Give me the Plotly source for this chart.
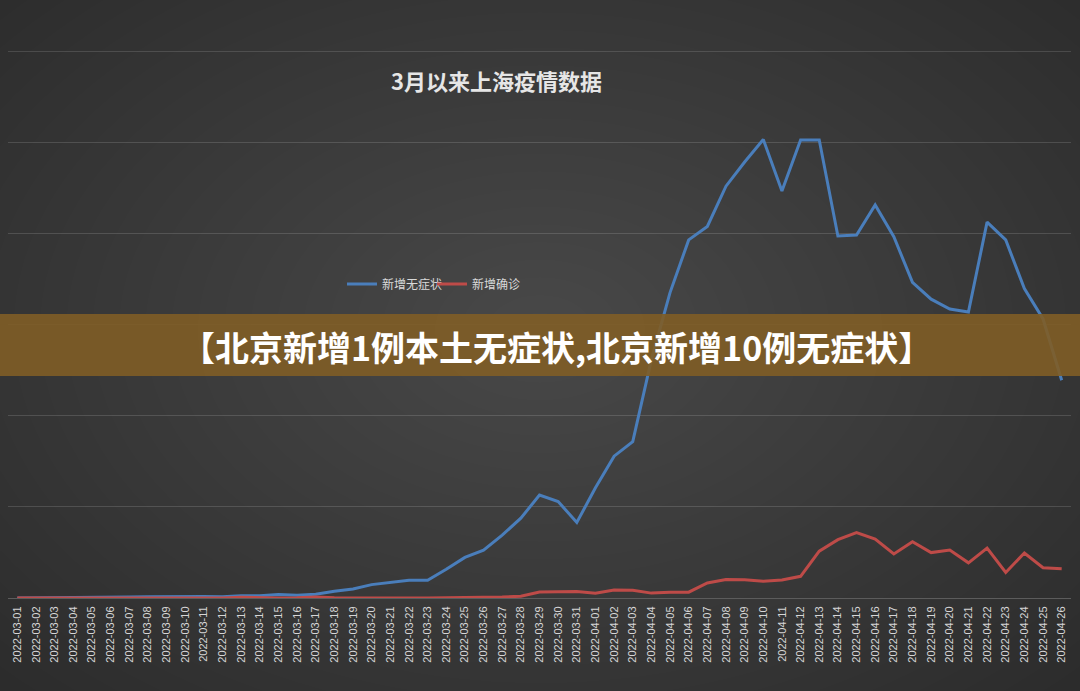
import plotly.graph_objects as go

dates = ["2022-03-%02d" % d for d in range(1, 32)] + ["2022-04-%02d" % d for d in range(1, 27)]

asymptomatic = [1, 3, 14, 16, 28, 45, 51, 62, 76, 64, 78, 64, 128, 130, 197, 150, 203, 366, 492, 734,
                865, 977, 979, 1580, 2231, 2631, 3450, 4381, 5656, 5298, 4144,
                6051, 7788, 8581, 13086, 16766, 19660, 20398, 22609, 23937, 25173, 22348, 25141, 25146,
                19872, 19923, 21582, 19831, 17332, 16407, 15861, 15698, 20634, 19657, 16983, 15319, 11956]
confirmed = [1, 0, 2, 3, 0, 3, 4, 3, 4, 11, 5, 1, 41, 9, 5, 8, 57, 8, 17, 24,
             31, 4, 4, 29, 38, 45, 50, 96, 326, 355, 358,
             260, 438, 425, 268, 311, 322, 824, 1015, 1006, 914, 994, 1189, 2573,
             3200, 3590, 3238, 2417, 3084, 2494, 2634, 1931, 2736, 1401, 2472, 1661, 1606]

series_names = ["新增无症状", "新增确诊"]
title_text = "3月以来上海疫情数据"
banner_text = "【北京新增1例本土无症状,北京新增10例无症状】"
y_max = 30000
y_step = 5000

W, H = 1080, 691
ML, MR, MT, MB = 8, 9, 51, 93
PW, PH = W - ML - MR, H - MT - MB


def px2x(px):
    return (px - ML) / PW


def px2y(py):
    return (H - MB - py) / PH


fig = go.Figure()
fig.add_trace(go.Scatter(x=dates, y=asymptomatic, name=series_names[0], mode="lines",
                         line=dict(color="#4a7ebb", width=3)))
fig.add_trace(go.Scatter(x=dates, y=confirmed, name=series_names[1], mode="lines",
                         line=dict(color="#be4b48", width=3)))

shapes = []
# radial background glow
N = 30
cx, cy = 540, 330
for i in range(N):
    f = 1 - i / N
    rx, ry = 790 * f, 530 * f
    shapes.append(dict(type="circle", xref="paper", yref="paper",
                       x0=px2x(cx - rx), x1=px2x(cx + rx), y0=px2y(cy + ry), y1=px2y(cy - ry),
                       fillcolor="rgba(255,255,255,0.0085)", line=dict(width=0), layer="below"))
# top gridline (at the axis maximum)
shapes.append(dict(type="line", xref="paper", yref="y", x0=0, x1=1, y0=y_max, y1=y_max,
                   line=dict(color="rgba(255,255,255,0.14)", width=1), layer="below"))
# banner
shapes.append(dict(type="rect", xref="paper", yref="paper",
                   x0=px2x(-2), x1=px2x(W + 2), y0=px2y(376), y1=px2y(314),
                   fillcolor="rgba(128,93,38,0.9)", line=dict(width=0), layer="above"))

annotations = [
    dict(text="<b>" + title_text + "</b>", xref="paper", yref="paper", x=px2x(496), y=px2y(80),
         showarrow=False, font=dict(size=22, color="#e6e6e6", family="Noto Sans CJK SC"),
         xanchor="center", yanchor="middle"),
    dict(text="<b>" + banner_text + "</b>", xref="paper", yref="paper", x=px2x(556), y=px2y(346),
         showarrow=False, font=dict(size=34, color="#ffffff", family="Noto Sans CJK SC"),
         xanchor="center", yanchor="middle"),
]

fig.update_layout(
    width=W, height=H,
    margin=dict(l=ML, r=MR, t=MT, b=MB),
    paper_bgcolor="#2a2a2a",
    plot_bgcolor="rgba(0,0,0,0)",
    shapes=shapes,
    annotations=annotations,
    showlegend=True,
    legend=dict(orientation="h", x=px2x(342), y=px2y(284), xanchor="left", yanchor="middle",
                bgcolor="rgba(0,0,0,0)", font=dict(size=12, color="#d9d9d9", family="Noto Sans CJK SC"),
                itemwidth=30, tracegroupgap=0, entrywidth=45, entrywidthmode="pixels"),
    xaxis=dict(type="category", range=[-0.5, len(dates) - 0.5], tickangle=-90,
               tickfont=dict(size=11, color="#d6d6d6", family="Liberation Sans"),
               showgrid=False, showline=True, linecolor="#5c5c5c", linewidth=1,
               ticks="outside", ticklen=3, tickcolor="rgba(0,0,0,0)", fixedrange=True),
    yaxis=dict(range=[0, y_max + 30], tick0=0, dtick=y_step, showticklabels=False,
               gridcolor="rgba(255,255,255,0.14)", gridwidth=1,
               zeroline=False, showline=False, fixedrange=True),
)

fig.write_html("out.html")
